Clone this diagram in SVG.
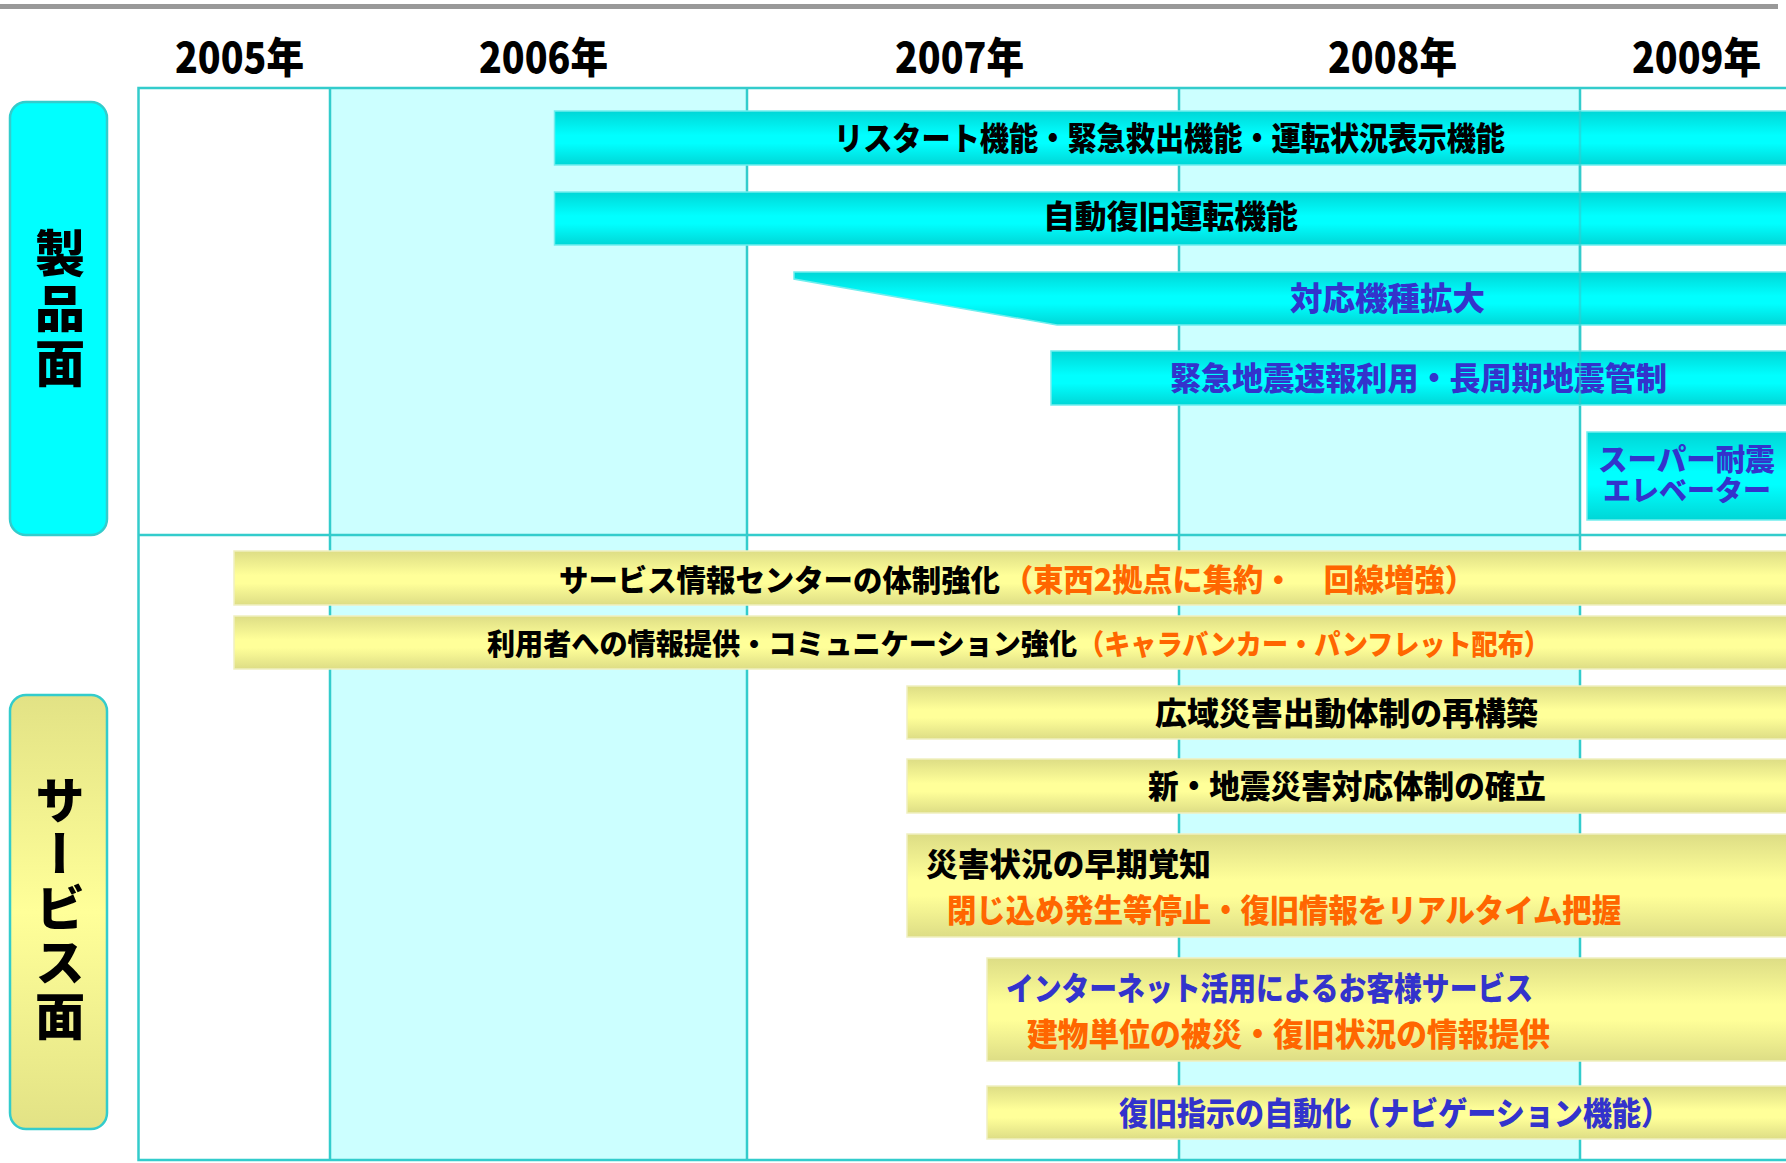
<svg xmlns="http://www.w3.org/2000/svg" width="1786" height="1163" viewBox="0 0 1786 1163">
<defs>
<linearGradient id="gc" x1="0" y1="0" x2="0" y2="1">
<stop offset="0" stop-color="#00D6D6"/>
<stop offset="0.45" stop-color="#00FFFF"/>
<stop offset="0.6" stop-color="#00FFFF"/>
<stop offset="1" stop-color="#00D6D6"/>
</linearGradient>
<linearGradient id="gy" x1="0" y1="0" x2="0" y2="1">
<stop offset="0" stop-color="#DDDD85"/>
<stop offset="0.45" stop-color="#FFFF99"/>
<stop offset="0.6" stop-color="#FFFF99"/>
<stop offset="1" stop-color="#DDDD85"/>
</linearGradient>
<linearGradient id="gyl" x1="0" y1="0" x2="0" y2="1">
<stop offset="0" stop-color="#E2E285"/>
<stop offset="0.5" stop-color="#FFFF99"/>
<stop offset="1" stop-color="#E2E285"/>
</linearGradient>
<style>
text{font-family:"Noto Sans CJK JP","Noto Sans CJK SC",sans-serif;font-weight:900;}
.yr{font-size:42px;fill:#000;}
.bt{font-size:32px;}
.k{fill:#000;}
.b{fill:#3333CC;}
.o{fill:#FF6600;}
.cb{fill:url(#gc);stroke:#70EEEE;stroke-width:1.5;}
.yb{fill:url(#gy);stroke:#EFEFC0;stroke-width:1.5;}
.gl{stroke:#33CCCC;stroke-width:2.5;fill:none;}
.vl{font-size:50px;writing-mode:vertical-rl;fill:#000;}
</style>
</defs>
<rect x="0" y="0" width="1786" height="1163" fill="#FFFFFF"/>
<rect x="0" y="4" width="1778" height="5" fill="#999999"/>

<g id="years">
<text class="yr" x="175" y="73" textLength="129" lengthAdjust="spacingAndGlyphs">2005年</text>
<text class="yr" x="479" y="73" textLength="129" lengthAdjust="spacingAndGlyphs">2006年</text>
<text class="yr" x="895" y="73" textLength="129" lengthAdjust="spacingAndGlyphs">2007年</text>
<text class="yr" x="1328" y="73" textLength="129" lengthAdjust="spacingAndGlyphs">2008年</text>
<text class="yr" x="1632" y="73" textLength="129" lengthAdjust="spacingAndGlyphs">2009年</text>
</g>

<g id="grid">
<rect x="330" y="88" width="417" height="1072" fill="#CCFFFF"/>
<rect x="1179" y="88" width="401" height="1072" fill="#CCFFFF"/>
<path class="gl" d="M330 88V1160M747 88V1160M1179 88V1160M1580 88V1160"/>
<path class="gl" stroke-width="3" d="M1790 88H138.5V1160H1790"/>
<path class="gl" stroke-width="3" d="M138 535H1790"/>
</g>

<g id="label-product">
<rect x="10" y="102" width="97" height="433" rx="16" fill="#00FFFF" stroke="#33CCCC" stroke-width="2.5"/>
<text class="vl" x="60" y="228" letter-spacing="5">製品面</text>
</g>
<g id="label-service">
<rect x="10" y="695" width="97" height="434" rx="16" fill="url(#gyl)" stroke="#33CCCC" stroke-width="2.5"/>
<text class="vl" x="60" y="775" letter-spacing="4">サービス面</text>
</g>

<g id="bar-restart">
<rect class="cb" x="554.5" y="111" width="1240" height="54"/>
<text class="bt k" x="834" y="150" textLength="671" lengthAdjust="spacingAndGlyphs">リスタート機能・緊急救出機能・運転状況表示機能</text>
</g>
<g id="bar-auto">
<rect class="cb" x="554.5" y="192" width="1240" height="53"/>
<text class="bt k" x="1043" y="228" textLength="255" lengthAdjust="spacingAndGlyphs">自動復旧運転機能</text>
</g>
<g id="bar-models">
<polygon class="cb" points="794,272 1795,272 1795,325 1057,325 794,279"/>
<text class="bt b" x="1290" y="310" textLength="195" lengthAdjust="spacingAndGlyphs">対応機種拡大</text>
</g>
<g id="bar-eew">
<rect class="cb" x="1051" y="351" width="744" height="54"/>
<text class="bt b" x="1170" y="390" textLength="497" lengthAdjust="spacingAndGlyphs">緊急地震速報利用・長周期地震管制</text>
</g>
<path id="line-2009-over" d="M1580 111V405" stroke="#33CCCC" stroke-width="2.5" opacity="0.6"/>
<g id="box-super">
<rect class="cb" x="1587" y="432" width="200" height="88"/>
<text class="b"><tspan x="1598" y="470" font-size="29.5">スーパー耐震</tspan><tspan x="1603" y="501" font-size="28">エレベーター</tspan></text>
</g>

<g id="bar-center">
<rect class="yb" x="234" y="551" width="1560" height="54"/>
<text class="k" x="559" y="591" font-size="30" textLength="441" lengthAdjust="spacingAndGlyphs">サービス情報センターの体制強化</text>
<text class="o" x="1003" y="591" font-size="30.5" textLength="472" lengthAdjust="spacingAndGlyphs">（東西2拠点に集約・　回線増強）</text>
</g>
<g id="bar-info">
<rect class="yb" x="234" y="616" width="1560" height="53"/>
<text class="k" x="487" y="655" font-size="29" textLength="590" lengthAdjust="spacingAndGlyphs">利用者への情報提供・コミュニケーション強化</text>
<text class="o" x="1078" y="655" font-size="28.5" textLength="472" lengthAdjust="spacingAndGlyphs">（キャラバンカー・パンフレット配布）</text>
</g>
<g id="bar-wide">
<rect class="yb" x="907" y="686" width="887" height="53"/>
<text class="bt k" x="1155" y="725" textLength="383" lengthAdjust="spacingAndGlyphs">広域災害出動体制の再構築</text>
</g>
<g id="bar-new">
<rect class="yb" x="907" y="759" width="887" height="54"/>
<text class="bt k" x="1148" y="798" textLength="398" lengthAdjust="spacingAndGlyphs">新・地震災害対応体制の確立</text>
</g>
<g id="bar-early">
<rect class="yb" x="907" y="834" width="887" height="103"/>
<text class="bt k" x="926" y="876" textLength="285" lengthAdjust="spacingAndGlyphs">災害状況の早期覚知</text>
<text class="bt o" x="947" y="922" textLength="674" lengthAdjust="spacingAndGlyphs">閉じ込め発生等停止・復旧情報をリアルタイム把握</text>
</g>
<g id="bar-internet">
<rect class="yb" x="987" y="958" width="807" height="103"/>
<text class="bt b" x="1006" y="1000" textLength="527" lengthAdjust="spacingAndGlyphs">インターネット活用によるお客様サービス</text>
<text class="bt o" x="1027" y="1046" textLength="523" lengthAdjust="spacingAndGlyphs">建物単位の被災・復旧状況の情報提供</text>
</g>
<g id="bar-navi">
<rect class="yb" x="987" y="1086" width="807" height="53"/>
<text class="bt b" x="1119" y="1125" textLength="551" lengthAdjust="spacingAndGlyphs">復旧指示の自動化（ナビゲーション機能）</text>
</g>
<g id="connectors"/>
</svg>
